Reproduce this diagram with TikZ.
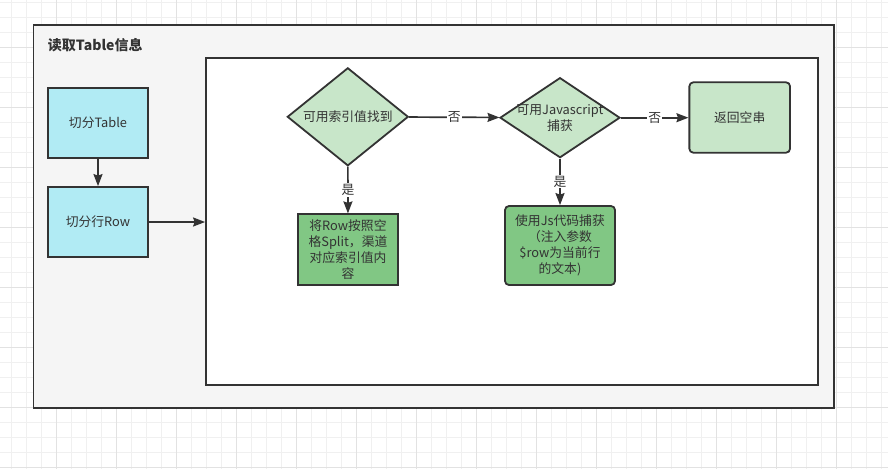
\documentclass[tikz,border=0pt]{standalone}
\usepackage{fontspec}
\setmainfont{Noto Sans CJK SC}
\usetikzlibrary{shapes.geometric,arrows.meta}
\definecolor{linegray}{HTML}{333333}
\definecolor{textgray}{HTML}{333333}
\definecolor{groupfill}{HTML}{F5F5F5}
\definecolor{cyanfill}{HTML}{B1EBF4}
\definecolor{lightgreen}{HTML}{C8E6C9}
\definecolor{darkgreen}{HTML}{81C784}
\definecolor{gridminor}{HTML}{F0F0F0}
\definecolor{gridmajor}{HTML}{E2E2E2}
\begin{document}
\begin{tikzpicture}[x=1pt,y=-1pt,
    font=\fontsize{12.8}{16}\selectfont, text=textgray,
    box/.style={draw=linegray, line width=1.8pt, align=center, inner sep=0pt,
                minimum width=100pt, minimum height=70pt},
    decision/.style={draw=linegray, line width=1.8pt, shape=diamond, inner sep=0pt,
                fill=lightgreen},
    flow/.style={draw=linegray, line width=1.7pt,
                -{Stealth[length=12pt,width=9pt,inset=1.5pt]}},
    answer/.style={fill=white, inner sep=1pt}]
  \useasboundingbox (0,0) rectangle (888,469);

  % Grid
  \foreach \gx in {11.7,26.7,...,888} \draw[gridminor, line width=0.8pt] (\gx,0) -- (\gx,469);
  \foreach \gy in {2.3,17.3,...,469} \draw[gridminor, line width=0.8pt] (0,\gy) -- (888,\gy);
  \foreach \gx in {56.7,116.7,...,888} \draw[gridmajor, line width=0.8pt] (\gx,0) -- (\gx,469);
  \foreach \gy in {47.3,107.3,...,469} \draw[gridmajor, line width=0.8pt] (0,\gy) -- (888,\gy);

  % Nodes
  \node[box, fill=groupfill, minimum width=800.5pt, minimum height=383pt] (outer) at (433.75,216.5) {};
  \node[anchor=west, inner sep=0pt, font=\fontsize{14}{16}\selectfont\bfseries] (title) at (47.7,45) {读取Table信息};
  \node[box, fill=white, minimum width=612pt, minimum height=327pt] (inner) at (512,221.5) {};

  \node[box, fill=cyanfill] (tab) at (98,123) {切分Table};
  \node[box, fill=cyanfill] (row) at (98,222) {切分行Row};

  \node[decision, minimum width=121pt, minimum height=98pt,
        label={center:可用索引值找到}] (find) at (347.8,116.8) {};
  \node[decision, minimum width=120pt, minimum height=80pt,
        label={[align=center]center:可用Javascript\\捕获}] (js) at (560,117.7) {};
  \node[box, fill=lightgreen, rounded corners=4pt, minimum width=100.7pt, minimum height=70.4pt] (empty) at (739.7,117.5) {返回空串};

  \node[box, fill=darkgreen, minimum width=100.6pt, minimum height=71pt] (split) at (348,249.8) {将Row按照空\\格Split，渠道\\对应索引值内\\容};
  \node[box, fill=darkgreen, rounded corners=4pt, minimum width=110pt, minimum height=79pt] (capture) at (560,245.5) {使用Js代码捕获\\（注入参数\\\$row为当前行\\的文本)};

  % Arrows
  \draw[flow] (tab) -- (row);
  \draw[flow] (row.east) -- (row.east -| inner.west);
  \draw[flow] (find) -- node[answer] {否} (js);
  \draw[flow] (js) -- node[answer] {否} (empty.west |- js);
  \draw[flow] (find) -- node[answer] {是} (split);
  \draw[flow] (js) -- node[answer] {是} (capture);
\end{tikzpicture}
\end{document}
